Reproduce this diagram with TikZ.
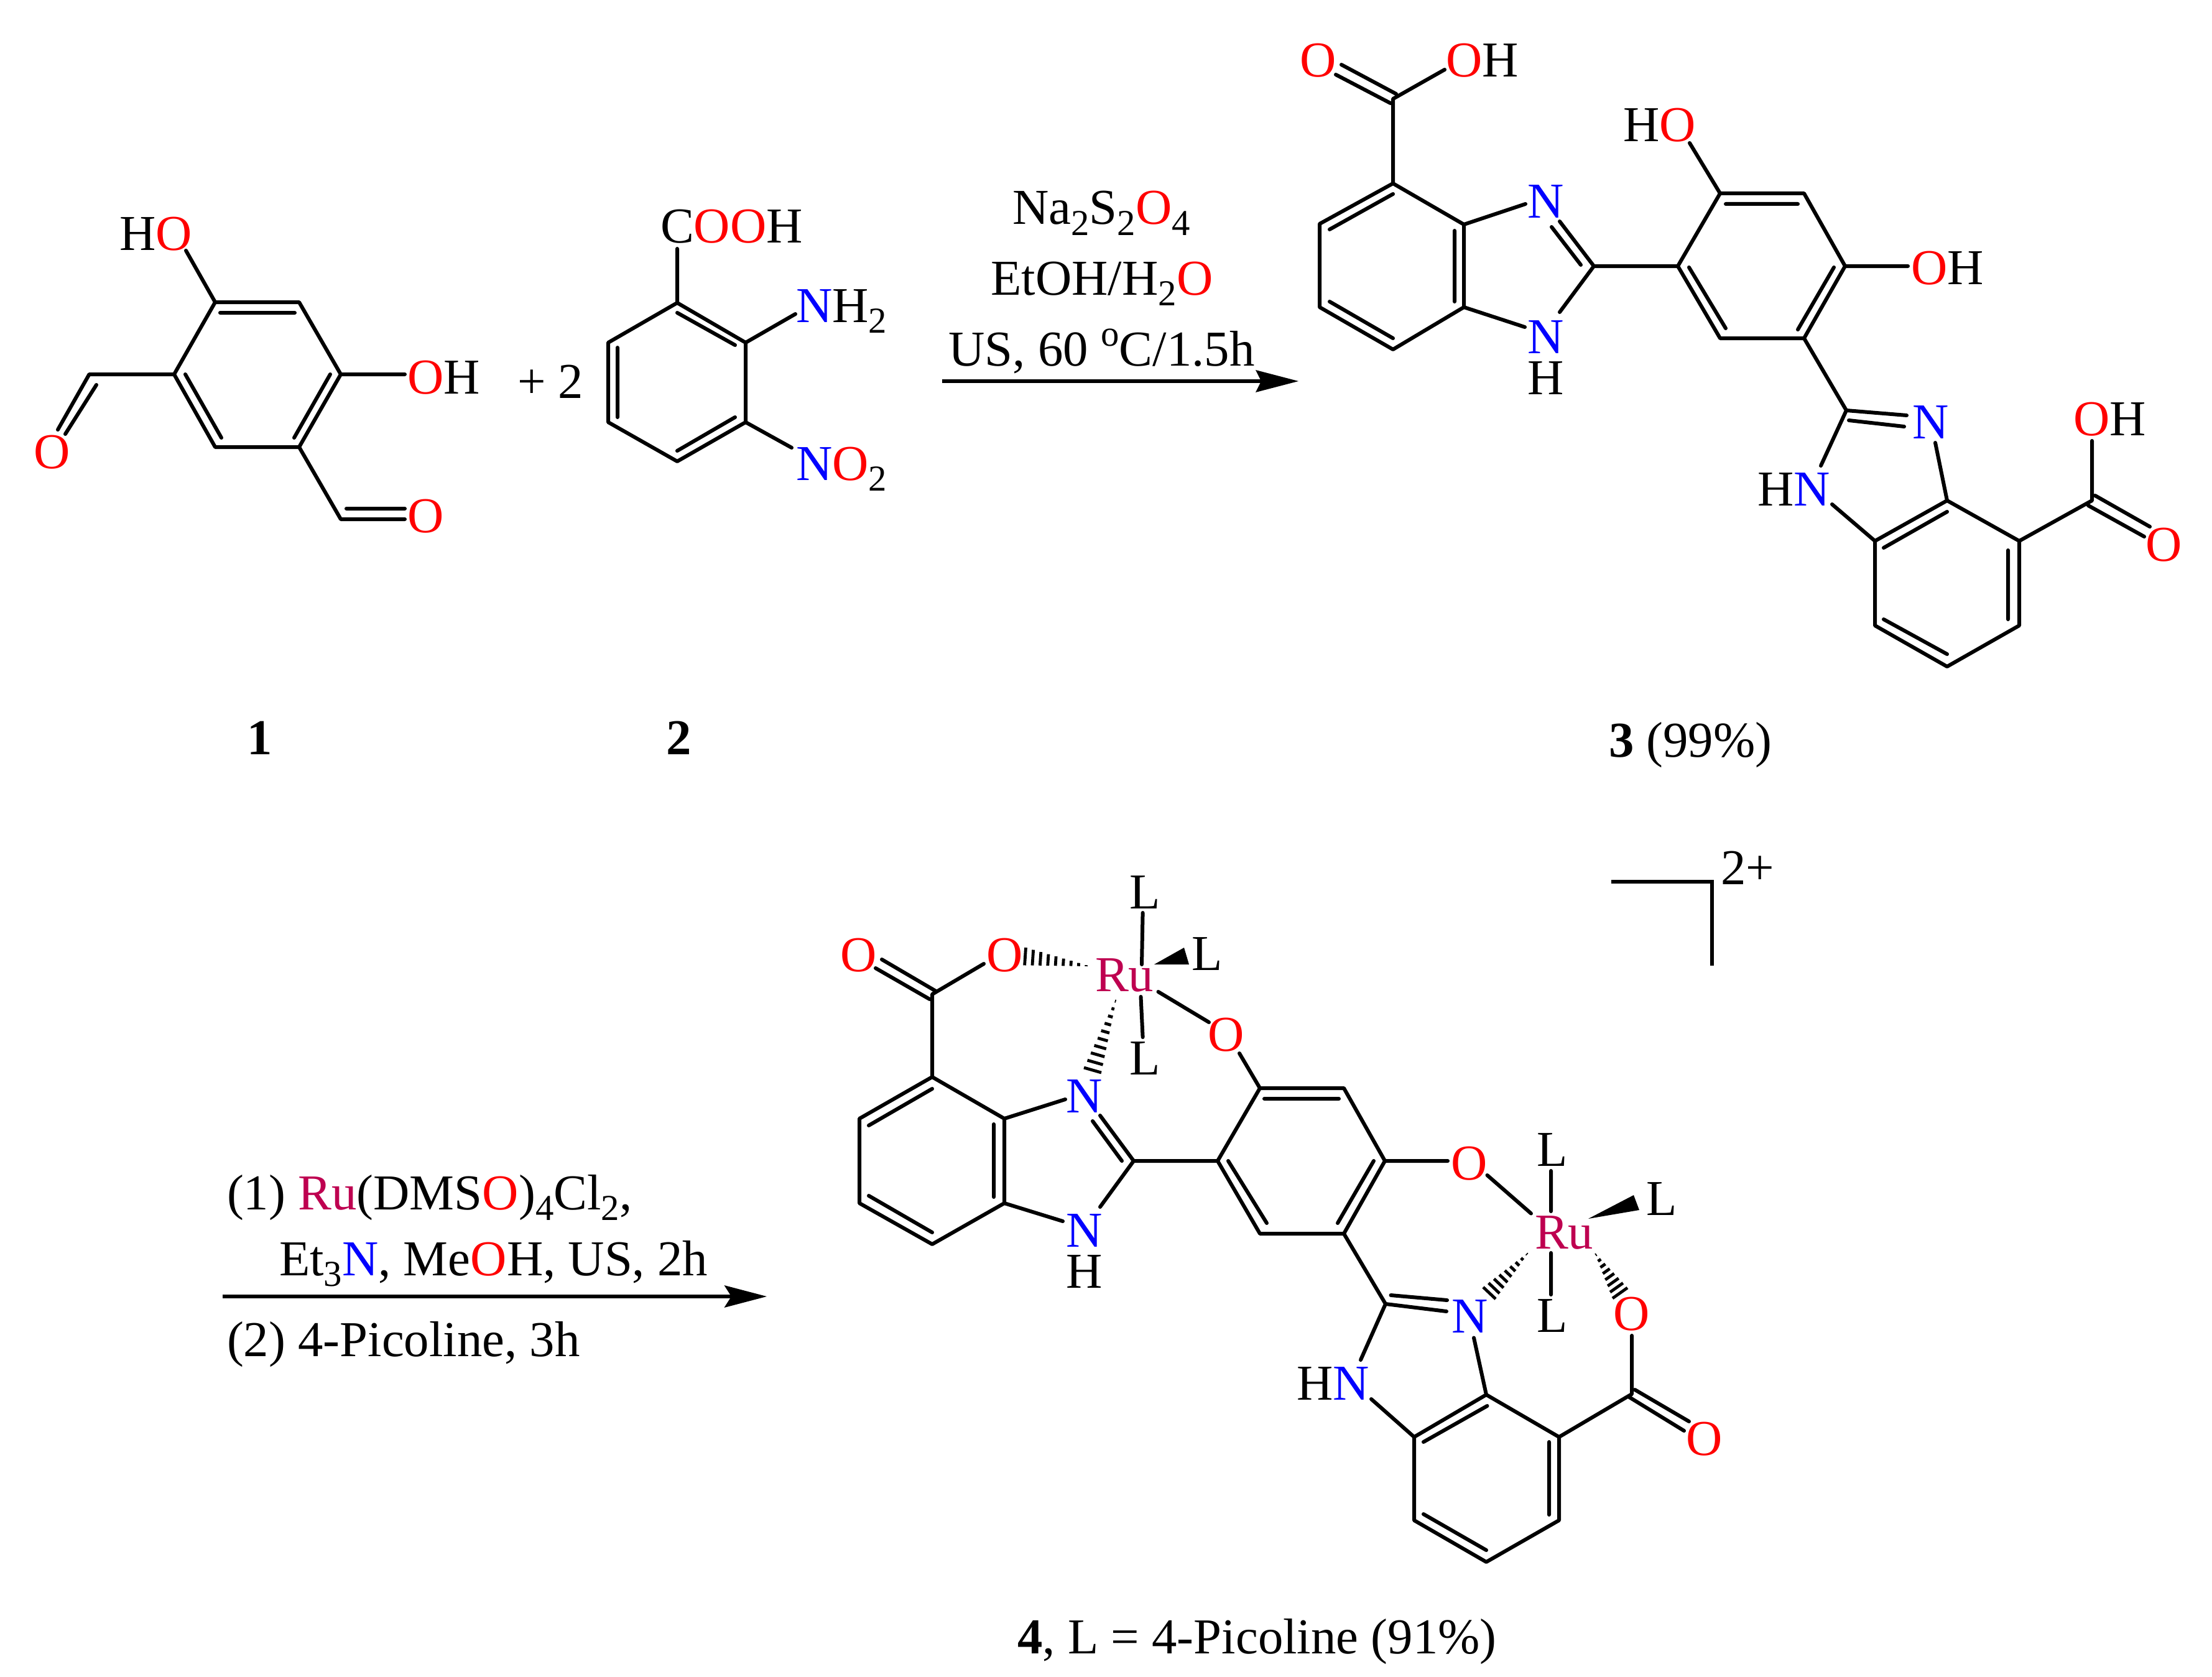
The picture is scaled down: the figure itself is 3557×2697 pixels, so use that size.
\documentclass[tikz,border=0pt]{standalone}
\usepackage{fontspec}
\setmainfont{Liberation Serif}
\usetikzlibrary{calc}
\definecolor{oxy}{RGB}{255,0,0}
\definecolor{nit}{RGB}{0,0,255}
\definecolor{ruth}{RGB}{190,0,80}
\newcommand{\Ox}{\textcolor{oxy}{O}}
\newcommand{\Ni}{\textcolor{nit}{N}}
\newcommand{\Rut}{\textcolor{ruth}{Ru}}
\newcommand{\sbs}[1]{\raisebox{-0.215em}{\fontsize{14.7pt}{16pt}\selectfont #1}}
\newcommand{\hashbond}[4]{%
  \foreach \hi in {1,...,#4}{%
    \pgfmathsetmacro{\ht}{0.06+0.94*(\hi-1)/(#4-1)}%
    \draw[hash] ($(#1)!\ht!(#2)$) -- ($(#1)!\ht!(#3)$);
  }%
}
\tikzset{
  bond/.style={line width=1.5pt,line cap=round,line join=round,black},
  hash/.style={line width=1.2pt,line cap=butt,black},
  rxn/.style={line width=1.5pt,line cap=butt,line join=miter,black},
  tip/.style={fill=black,draw=none},
  lab/.style={inner sep=0pt,outer sep=0pt,anchor=base west,font=\fontsize{20.2pt}{24pt}\selectfont},
  cen/.style={inner sep=0pt,outer sep=0pt,anchor=base,font=\fontsize{20.2pt}{24pt}\selectfont}
}
\begin{document}
\begin{tikzpicture}[x=0.25pt,y=-0.25pt]
\useasboundingbox (0,0) rectangle (3557,2697);
\fill[white] (0,0) rectangle (3557,2697);
% ---------- named points
\foreach \n/\x/\y in {
 a1/346/486,a2/481/486,a3/548/602,a4/481/719,a5/346/719,a6/280/602,a7/299/403,a8/651/602,a9/143.5/602,
 a10/93/691,a11/155/619,a12/105/698,a13/548/835,a14/651/835,a15/557/818,a16/651/818,a17/354/503,a18/474/503,
 a19/298/602,a20/356/704,a21/531/602,a22/473/704,
 b1/1089/487,b2/1199/551,b3/1199/679,b4/1089/742,b5/978/679,b6/978/551,b7/1089/503,b8/1182/555,b9/1182/671,
 b10/1089/725,b11/993/559,b12/993/671,b13/1089/400,b14/1279/505,b15/1273/720,
 c1/2240/295,c2/2122/360,c3/2122/494,c4/2240/562,c5/2354/494,c6/2354/361,c7/2240/312,c8/2138/369,c9/2138/485,
 c10/2240/544,c11/2339/371,c12/2339/485,c13/2240/159,c14/2245/151,c15/2157/104,c16/2236/166,c17/2148/120,
 c18/2323/112,c19/2453/328,c20/2508/356,c21/2563/428,c22/2495/365,c23/2542/426,c24/2508/502,c25/2452/526,
 d1/2698/428,d2/2766/311,d3/2901/311,d4/2967/428,d5/2901/544,d6/2766/544,d7/2775/328,d8/2891/328,d9/2716/430,
 d10/2775/528,d11/2949/430,d12/2891/530,d13/2717/230,d14/3068/428,
 e1/2969/660,e3/3066/668,e4/2973/676,e5/3062/686,e6/2928/749,e7/3112/712,e8/2946/811,
 f1/3131/805,f2/3247/870,f3/3247/1006,f4/3131/1072,f5/3015/1006,f6/3015/870,f7/3131/823,f8/3029/881,f9/3229/885,
 f10/3229/996,f11/3029/996,f12/3131/1052,f13/3364/805,f14/3364/709,f15/3369/797,f16/3457/847,f17/3358/813,f18/3448/863,
 g1/1499/1732,g2/1382/1799,g3/1382/1935,g4/1499/2001,g5/1615/1935,g6/1615/1799,g7/1499/1751,g8/1397/1810,g9/1397/1923,
 g10/1499/1982,g11/1598/1808,g12/1598/1925,g13/1499/1599,g14/1505/1594,g15/1418/1543,g16/1495/1607,g17/1408/1557,
 g18/1582/1550,g19/1713/1768,g20/1769/1794,g21/1823/1867,g22/1757/1803,g23/1804/1867,g24/1769/1941,g25/1709/1964,
 h1/1958/1867,h2/2026/1750,h3/2161/1750,h4/2227/1867,h5/2161/1984,h6/2026/1984,h7/2033/1767,h8/2153/1767,h9/1975/1867,
 h10/2037/1967,h11/2209/1867,h12/2151/1967,h13/1993/1694,h14/2328/1867,
 r1/1837.6/1468,r2/1836/1551,r3/1834.5/1603,r4/1837.6/1668,r5/1862.5/1595,r6/1944/1644,
 w1/1856/1551,w2/1904/1524,w3/1912/1551,
 u1/1753/1554,u2/1649.5/1524,u3/1647.6/1552.4,u4/1796/1603,u5/1743/1717,u6/1771/1725,
 k1/2391.5/1890,k2/2462/1951.5,k3/2494/1883,k4/2494/1948,k5/2494/2015,k6/2494/2082,k7/2554/1960,k8/2627/1922,k9/2636/1946,
 v1/2459/2013,v2/2385/2070,v3/2405/2089,v4/2564/2014,v5/2593/2088,v6/2617/2071,
 m1/2228/2097,m2/2326/2109,m3/2236.5/2083,m4/2327/2091,m5/2188/2187,m6/2370/2151.5,m7/2205/2250,
 n1/2390/2243,n2/2507/2311,n3/2507/2445,n4/2390/2512,n5/2274/2445,n6/2274/2311,n7/2391.5/2261,n8/2289/2319,n9/2491/2319,
 n10/2491/2436,n11/2289/2435,n12/2390/2493,
 p1/2624/2242,p2/2624/2148,p3/2629/2235,p4/2716/2286,p5/2620/2247,p6/2708/2301,
 q1/2591/1418,q2/2753/1418,q3/2753/1553,
 s1/1515/613,s2/2088/613,s3/2019/595,s4/2028/613,s5/2019/631,
 t1/358/2085,t2/1233/2085,t3/1164.5/2067,t4/1176/2085,t5/1164.5/2103}
 {\coordinate (\n) at (\x,\y);}
% ---------- compound 1
\draw[bond] (a1)--(a2)--(a3)--(a4)--(a5)--(a6)--cycle;
\draw[bond] (a17)--(a18) (a19)--(a20) (a21)--(a22);
\draw[bond] (a1)--(a7) (a3)--(a8) (a6)--(a9)--(a10) (a11)--(a12) (a4)--(a13)--(a14) (a15)--(a16);
\node[lab] (hoa) at (192.5,402) {H\Ox};
\node[lab] (oha) at (655,633) {\Ox H};
\node[lab] (oal) at (54,753) {\Ox};
\node[lab] (oar) at (655,856) {\Ox};
\node[lab] (plus) at (832,640) {+ 2};
\node[cen] (no1) at (418,1213) {\textbf{1}};
% ---------- compound 2
\draw[bond] (b1)--(b2)--(b3)--(b4)--(b5)--(b6)--cycle;
\draw[bond] (b7)--(b8) (b9)--(b10) (b11)--(b12);
\draw[bond] (b1)--(b13) (b2)--(b14) (b3)--(b15);
\node[lab] (coohb) at (1062,391) {C\Ox\Ox H};
\node[lab] (nhb) at (1280,518) {\Ni H\sbs{2}};
\node[lab] (nob) at (1280,772) {\Ni\Ox\sbs{2}};
\node[cen] (no2) at (1092,1213) {\textbf{2}};
% ---------- arrow 1
\draw[rxn] (s1)--(s4);
\fill[tip] (s2)--(s3)--(s4)--(s5)--cycle;
\node[cen] (ra1) at (1771,361) {Na\sbs{2}S\sbs{2}\Ox\sbs{4}};
\node[cen] (ra2) at (1772,474) {EtOH/H\sbs{2}\Ox};
\node[cen] (ra3) at (1771.5,588) {US, 60 \raisebox{0.39em}{\fontsize{14.7pt}{16pt}\selectfont o}C/1.5h};
% ---------- compound 3
\draw[bond] (c1)--(c2)--(c3)--(c4)--(c5)--(c6)--cycle;
\draw[bond] (c7)--(c8) (c9)--(c10) (c11)--(c12);
\draw[bond] (c1)--(c13)--(c18) (c14)--(c15) (c16)--(c17);
\draw[bond] (c6)--(c19) (c20)--(c21)--(c24) (c22)--(c23) (c5)--(c25) (c21)--(d1);
\draw[bond] (d1)--(d2)--(d3)--(d4)--(d5)--(d6)--cycle;
\draw[bond] (d7)--(d8) (d9)--(d10) (d11)--(d12) (d2)--(d13) (d4)--(d14);
\draw[bond] (d5)--(e1)--(e3) (e4)--(e5) (e1)--(e6) (e7)--(f1) (e8)--(f6);
\draw[bond] (f1)--(f2)--(f3)--(f4)--(f5)--(f6)--cycle;
\draw[bond] (f7)--(f8) (f9)--(f10) (f11)--(f12);
\draw[bond] (f2)--(f13)--(f14) (f15)--(f16) (f17)--(f18);
\node[lab] (occ) at (2090,124) {\Ox};
\node[lab] (ohc) at (2325,124) {\Ox H};
\node[lab] (nct) at (2456,351) {\Ni};
\node[lab] (ncb) at (2456,568) {\Ni};
\node[lab] (hcb) at (2456,634) {H};
\node[lab] (hoc) at (2610,228) {H\Ox};
\node[lab] (ohd) at (3073,457) {\Ox H};
\node[lab] (ne) at (3075,705) {\Ni};
\node[lab] (hne) at (2826,813) {H\Ni};
\node[lab] (ohf) at (3334,700) {\Ox H};
\node[lab] (of) at (3450,902) {\Ox};
\node[lab] (no3) at (2587,1217) {\textbf{3} (99\%)};
% ---------- arrow 2
\draw[rxn] (t1)--(t4);
\fill[tip] (t2)--(t3)--(t4)--(t5)--cycle;
\node[lab] (rb1) at (365,1945) {(1) \Rut(DMS\Ox)\sbs{4}Cl\sbs{2},};
\node[lab] (rb2) at (449,2051) {Et\sbs{3}\Ni, Me\Ox H, US, 2h};
\node[lab] (rb3) at (365,2181) {(2) 4-Picoline, 3h};
% ---------- compound 4
\draw[bond] (g1)--(g2)--(g3)--(g4)--(g5)--(g6)--cycle;
\draw[bond] (g7)--(g8) (g9)--(g10) (g11)--(g12);
\draw[bond] (g1)--(g13)--(g18) (g14)--(g15) (g16)--(g17);
\draw[bond] (g6)--(g19) (g20)--(g21)--(g24) (g22)--(g23) (g5)--(g25) (g21)--(h1);
\draw[bond] (h1)--(h2)--(h3)--(h4)--(h5)--(h6)--cycle;
\draw[bond] (h7)--(h8) (h9)--(h10) (h11)--(h12) (h2)--(h13) (h4)--(h14);
\draw[bond] (r1)--(r2) (r3)--(r4) (r5)--(r6);
\fill[tip] (w1)--(w2)--(w3)--cycle;
\hashbond{u1}{u2}{u3}{9}
\hashbond{u4}{u5}{u6}{10}
\draw[bond] (k1)--(k2) (k3)--(k4) (k5)--(k6);
\fill[tip] (k7)--(k8)--(k9)--cycle;
\hashbond{v1}{v2}{v3}{9}
\hashbond{v4}{v5}{v6}{8}
\draw[bond] (h5)--(m1)--(m2) (m3)--(m4) (m1)--(m5) (m6)--(n1) (m7)--(n6);
\draw[bond] (n1)--(n2)--(n3)--(n4)--(n5)--(n6)--cycle;
\draw[bond] (n7)--(n8) (n9)--(n10) (n11)--(n12);
\draw[bond] (n2)--(p1)--(p2) (p3)--(p4) (p5)--(p6);
\node[lab] (og) at (1351,1562) {\Ox};
\node[lab] (og2) at (1586,1562) {\Ox};
\node[lab] (rua) at (1761,1594) {\Rut};
\node[lab] (lat) at (1816,1461) {L};
\node[lab] (lar) at (1916,1560) {L};
\node[lab] (oh) at (1942,1690) {\Ox};
\node[lab] (lab) at (1816,1728) {L};
\node[lab] (ng) at (1714,1789) {\Ni};
\node[lab] (ngb) at (1714,2005) {\Ni};
\node[lab] (hgb) at (1714,2071) {H};
\node[lab] (ok) at (2333,1897) {\Ox};
\node[lab] (lbt) at (2471,1875) {L};
\node[lab] (rub) at (2468,2008) {\Rut};
\node[lab] (lbr) at (2647,1954) {L};
\node[lab] (lbb) at (2471,2142) {L};
\node[lab] (nm) at (2334,2143) {\Ni};
\node[lab] (op) at (2594,2139) {\Ox};
\node[lab] (op2) at (2711,2340) {\Ox};
\node[lab] (hnm) at (2085,2251) {H\Ni};
\draw[rxn] (q1)--(q2)--(q3);
\node[lab] (chg) at (2767,1422) {2+};
\node[cen] (no4) at (2021.5,2659) {\textbf{4}, L = 4-Picoline (91\%)};
\end{tikzpicture}
\end{document}
